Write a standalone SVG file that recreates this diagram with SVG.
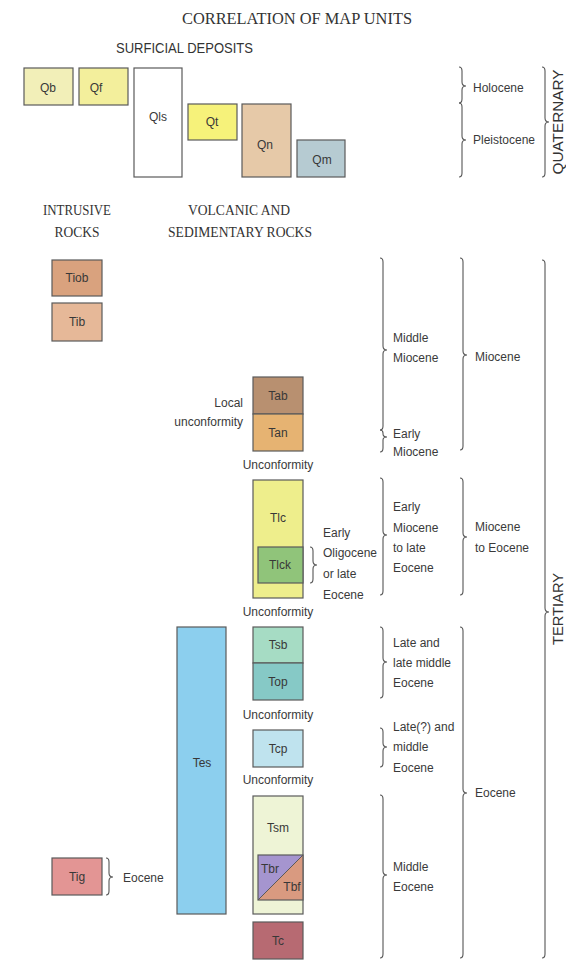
<svg xmlns="http://www.w3.org/2000/svg" width="566" height="977" viewBox="0 0 566 977">
<style>
.bx{stroke:#5a5a5a;stroke-width:1.2}
.lb{font-family:"Liberation Sans",Arial,sans-serif;font-size:12px;fill:#383838;text-anchor:middle}
.tx{font-family:"Liberation Sans",Arial,sans-serif;font-size:12px;fill:#3a3a3a}
.hd{font-family:"Liberation Serif","Times New Roman",serif;font-size:15px;fill:#333;text-anchor:middle}
.br{fill:none;stroke:#555;stroke-width:1.1}
.vt{font-family:"Liberation Sans",Arial,sans-serif;font-size:14px;fill:#333;text-anchor:middle}
</style>
<rect width="566" height="977" fill="#ffffff"/>
<text x="297" y="24" style="font-family:'Liberation Serif','Times New Roman',serif;font-size:16px;fill:#333;text-anchor:middle" textLength="230" lengthAdjust="spacingAndGlyphs">CORRELATION OF MAP UNITS</text>
<text x="116" y="53" style="font-family:'Liberation Sans',Arial,sans-serif;font-size:14px;fill:#333" textLength="137" lengthAdjust="spacingAndGlyphs">SURFICIAL DEPOSITS</text>
<text class="hd" x="77" y="215" textLength="68" lengthAdjust="spacingAndGlyphs">INTRUSIVE</text>
<text class="hd" x="77" y="237" textLength="45" lengthAdjust="spacingAndGlyphs">ROCKS</text>
<text class="hd" x="239" y="215" textLength="102" lengthAdjust="spacingAndGlyphs">VOLCANIC AND</text>
<text class="hd" x="240" y="237" textLength="144" lengthAdjust="spacingAndGlyphs">SEDIMENTARY ROCKS</text>
<text class="vt" transform="translate(563,122) rotate(-90)" textLength="105" lengthAdjust="spacingAndGlyphs">QUATERNARY</text>
<text class="vt" transform="translate(563,609) rotate(-90)" textLength="72" lengthAdjust="spacingAndGlyphs">TERTIARY</text>

<g id="Qb"><rect class="bx" x="24" y="68" width="49" height="37" fill="#f2efb8"/><text class="lb" x="48" y="92">Qb</text></g>
<g id="Qf"><rect class="bx" x="79" y="68" width="49" height="37" fill="#f3ef9c"/><text class="lb" x="96" y="92">Qf</text></g>
<g id="Qls"><rect class="bx" x="134" y="68" width="48" height="109" fill="#ffffff"/><text class="lb" x="158" y="121">Qls</text></g>
<g id="Qt"><rect class="bx" x="188" y="104" width="49" height="36" fill="#f6f27a"/><text class="lb" x="212" y="126">Qt</text></g>
<g id="Qn"><rect class="bx" x="242" y="104" width="49" height="73" fill="#e6c9a8"/><text class="lb" x="265" y="149">Qn</text></g>
<g id="Qm"><rect class="bx" x="297" y="140" width="48" height="37" fill="#b6cbd2"/><text class="lb" x="322" y="164">Qm</text></g>

<g id="Tiob"><rect class="bx" x="52" y="260" width="50" height="36" fill="#d9a27e"/><text class="lb" x="77" y="282">Tiob</text></g>
<g id="Tib"><rect class="bx" x="52" y="303" width="50" height="38" fill="#e6b898"/><text class="lb" x="77" y="326">Tib</text></g>
<g id="Tig"><rect class="bx" x="52" y="858" width="50" height="37" fill="#e39594"/><text class="lb" x="77" y="881">Tig</text></g>

<g id="Tab"><rect class="bx" x="253" y="377" width="50" height="37" fill="#b89070"/><text class="lb" x="278" y="400">Tab</text></g>
<g id="Tan"><rect class="bx" x="253" y="414" width="50" height="37" fill="#e6b372"/><text class="lb" x="278" y="437">Tan</text></g>
<g id="Tlc"><rect class="bx" x="253" y="480" width="50" height="118" fill="#eeee8c"/><text class="lb" x="278" y="522">Tlc</text></g>
<g id="Tlck"><rect class="bx" x="258" y="547" width="45" height="36" fill="#90c47a"/><text class="lb" x="280" y="569">Tlck</text></g>
<g id="Tes"><rect class="bx" x="177" y="627" width="49" height="287" fill="#8ccfee"/><text class="lb" x="202" y="767">Tes</text></g>
<g id="Tsb"><rect class="bx" x="253" y="627" width="50" height="36" fill="#a6dcc4"/><text class="lb" x="278" y="649">Tsb</text></g>
<g id="Top"><rect class="bx" x="253" y="663" width="50" height="37" fill="#86c9c6"/><text class="lb" x="278" y="686">Top</text></g>
<g id="Tcp"><rect class="bx" x="253" y="730" width="50" height="37" fill="#bfe3ee"/><text class="lb" x="278" y="753">Tcp</text></g>
<g id="Tsm"><rect class="bx" x="253" y="796" width="50" height="118" fill="#eef4d6"/><text class="lb" x="278" y="832">Tsm</text></g>
<g id="Tbr"><polygon points="258,855 303,855 258,900" fill="#a595cf"/><text class="lb" x="270" y="873">Tbr</text></g>
<g id="Tbf"><polygon points="303,855 303,900 258,900" fill="#d99a80"/><line x1="258" y1="900" x2="303" y2="855" stroke="#5a5a5a" stroke-width="1"/><rect x="258" y="855" width="45" height="45" fill="none" stroke="#5a5a5a" stroke-width="1.2"/><text class="lb" x="292" y="891">Tbf</text></g>
<g id="Tc"><rect class="bx" x="253" y="922" width="50" height="37" fill="#b76a72"/><text class="lb" x="278" y="945">Tc</text></g>

<g id="connectors">
<path class="br" d="M459,67 Q462,67 462,71 L462,82 Q462,86 466,86 Q462,86 462,90 L462,99 Q462,103 459,103"/>
<path class="br" d="M459,103 Q462,103 462,107 L462,136 Q462,140 466,140 Q462,140 462,144 L462,173 Q462,177 459,177"/>
<path class="br" d="M542,67 Q545,67 545,71 L545,118 Q545,122 549,122 Q545,122 545,126 L545,173 Q545,177 542,177"/>
<path class="br" d="M380,258 Q383,258 383,262 L383,346 Q383,350 387,350 Q383,350 383,354 L383,426 Q383,430 380,430"/>
<path class="br" d="M380,430 Q383,430 383,433 L383,434 Q383,437 387,437 Q383,437 383,440 L383,448 Q383,452 380,452"/>
<path class="br" d="M460,258 Q463,258 463,262 L463,351 Q463,355 467,355 Q463,355 463,359 L463,446 Q463,450 460,450"/>
<path class="br" d="M380,478 Q383,478 383,482 L383,531 Q383,535 387,535 Q383,535 383,539 L383,591 Q383,595 380,595"/>
<path class="br" d="M460,478 Q463,478 463,482 L463,533 Q463,537 467,537 Q463,537 463,541 L463,591 Q463,595 460,595"/>
<path class="br" d="M542,260 Q545,260 545,264 L545,608 Q545,612 549,612 Q545,612 545,616 L545,954 Q545,958 542,958"/>
<path class="br" d="M310,547 Q313,547 313,551 L313,561 Q313,565 317,565 Q313,565 313,569 L313,579 Q313,583 310,583"/>
<path class="br" d="M380,627 Q383,627 383,631 L383,658 Q383,662 387,662 Q383,662 383,666 L383,694 Q383,698 380,698"/>
<path class="br" d="M380,728 Q383,728 383,732 L383,743 Q383,747 387,747 Q383,747 383,751 L383,763 Q383,767 380,767"/>
<path class="br" d="M380,795 Q383,795 383,799 L383,871 Q383,875 387,875 Q383,875 383,879 L383,954 Q383,958 380,958"/>
<path class="br" d="M460,627 Q463,627 463,631 L463,789 Q463,793 467,793 Q463,793 463,797 L463,954 Q463,958 460,958"/>
<path class="br" d="M106,858 Q109,858 109,862 L109,873 Q109,877 113,877 Q109,877 109,881 L109,891 Q109,895 106,895"/>
</g>

<g id="labels">
<text class="tx" x="473" y="92">Holocene</text>
<text class="tx" x="473" y="144">Pleistocene</text>
<text class="tx" x="243" y="407" text-anchor="end">Local</text>
<text class="tx" x="243" y="426" text-anchor="end">unconformity</text>
<text class="tx" x="278" y="469" text-anchor="middle">Unconformity</text>
<text class="tx" x="278" y="616" text-anchor="middle">Unconformity</text>
<text class="tx" x="278" y="719" text-anchor="middle">Unconformity</text>
<text class="tx" x="278" y="784" text-anchor="middle">Unconformity</text>
<text class="tx" x="323" y="537">Early</text>
<text class="tx" x="323" y="557">Oligocene</text>
<text class="tx" x="323" y="578">or late</text>
<text class="tx" x="323" y="599">Eocene</text>
<text class="tx" x="393" y="342">Middle</text>
<text class="tx" x="393" y="362">Miocene</text>
<text class="tx" x="393" y="438">Early</text>
<text class="tx" x="393" y="456">Miocene</text>
<text class="tx" x="475" y="361">Miocene</text>
<text class="tx" x="393" y="511">Early</text>
<text class="tx" x="393" y="532">Miocene</text>
<text class="tx" x="393" y="552">to late</text>
<text class="tx" x="393" y="572">Eocene</text>
<text class="tx" x="475" y="531">Miocene</text>
<text class="tx" x="475" y="552">to Eocene</text>
<text class="tx" x="393" y="647">Late and</text>
<text class="tx" x="393" y="667">late middle</text>
<text class="tx" x="393" y="687">Eocene</text>
<text class="tx" x="393" y="731">Late(?) and</text>
<text class="tx" x="393" y="751">middle</text>
<text class="tx" x="393" y="772">Eocene</text>
<text class="tx" x="393" y="871">Middle</text>
<text class="tx" x="393" y="891">Eocene</text>
<text class="tx" x="475" y="797">Eocene</text>
<text class="tx" x="123" y="882">Eocene</text>
</g>
</svg>
